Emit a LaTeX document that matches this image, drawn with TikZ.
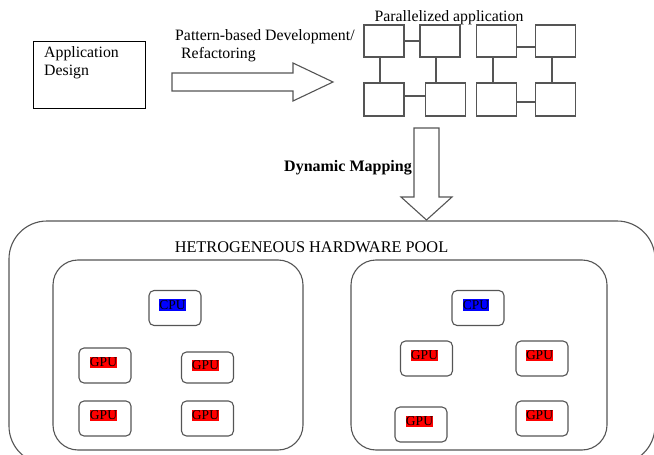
\documentclass[tikz,border=0pt]{standalone}
\usepackage{fontspec}
\setmainfont{Liberation Serif}
\usetikzlibrary{calc}
\definecolor{lgray}{HTML}{555555}
\begin{document}
\begin{tikzpicture}[x=1pt,y=-1pt,
  txt/.style={inner sep=0pt, font=\fontsize{15.8}{18}\selectfont},
  pbox/.style={draw=lgray, line width=1.1pt, minimum width=40pt, minimum height=32pt, inner sep=0pt},
  link/.style={draw=lgray, line width=1.1pt},
  hw/.style={draw=lgray, line width=1.1pt, rounded corners=5pt, minimum width=52pt, minimum height=35pt, inner sep=0pt},
  chip/.style={inner xsep=0.2pt, inner ysep=1.2pt, font=\fontsize{13.5}{15}\selectfont, text=black},
  blockarrow/.style={draw=lgray, line width=1.1pt, fill=white}
]
\useasboundingbox (0,0) rectangle (654,455);

% Application design
\node[draw=black, line width=1pt, minimum width=112pt, minimum height=67pt, inner sep=0pt] (app) at (89,74.5) {};
\node[txt, align=left, anchor=north west] (appt) at (44,46) {Application\\Design};

% refactoring arrow
\draw[blockarrow] (172,73) -- (293,73) -- (293,63) -- (333,82) -- (293,101) -- (293,91) -- (172,91) -- cycle;
\node[txt, align=left, anchor=north west] (pat) at (175,29) {Pattern-based Development/\\\hspace{6pt}Refactoring};

% parallelized application
\node[txt] (par) at (449,17.5) {Parallelized application};
\node[pbox] (b1) at (384,41) {};
\node[pbox] (b2) at (440,41) {};
\node[pbox] (b3) at (496.5,41) {};
\node[pbox] (b4) at (555.5,41) {};
\node[pbox, minimum height=33pt] (b5) at (384,99.5) {};
\node[pbox, minimum height=33pt] (b6) at (445.5,99.5) {};
\node[pbox, minimum height=33pt] (b7) at (496.5,99.5) {};
\node[pbox, minimum height=33pt] (b8) at (555.5,99.5) {};
\draw[link] (b1.east) -- (b2.west);
\draw[link] ([yshift=-6pt]b3.east) -- ([yshift=-6pt]b4.west);
\draw[link] ([yshift=3.5pt]b5.east) -- ([yshift=3.5pt]b5.east -| b6.west);
\draw[link] ([yshift=-2.5pt]b7.east) -- ([yshift=-2.5pt]b7.east -| b8.west);
\draw[link] ([xshift=-4pt]b1.south) -- ([xshift=-4pt]b1.south |- b5.north);
\draw[link] ([xshift=-4pt]b2.south) -- ([xshift=-4pt]b2.south |- b6.north);
\draw[link] ([xshift=-3.5pt]b3.south) -- ([xshift=-3.5pt]b3.south |- b7.north);
\draw[link] ([xshift=-3.5pt]b4.south) -- ([xshift=-3.5pt]b4.south |- b8.north);

% dynamic mapping arrow
\draw[blockarrow] (414,128) -- (439,128) -- (439,197) -- (452,197) -- (426.5,220) -- (401,197) -- (414,197) -- cycle;
\node[txt, font=\fontsize{16}{18}\selectfont\bfseries] (dm) at (348,168) {Dynamic Mapping};

% hardware pool
\draw[draw=lgray, line width=1.1pt, rounded corners=38pt] (9,221) rectangle (655,464);
\node[txt, font=\fontsize{16.3}{18}\selectfont] (pool) at (311.5,247) {HETROGENEOUS HARDWARE POOL};
\draw[draw=lgray, line width=1.1pt, rounded corners=25pt] (53,260) rectangle (303,450);
\draw[draw=lgray, line width=1.1pt, rounded corners=25pt] (351,260) rectangle (607,450);

% left node
\node[hw] (lc) at (175,308) {};
\node[chip, fill=blue] (lct) at ([shift={(-2.5,-3)}]lc.center) {CPU};
\node[hw] (lg1) at (105,365.5) {};
\node[chip, fill=red] (lg1t) at ([shift={(-1.5,-3)}]lg1.center) {GPU};
\node[hw, minimum height=31pt] (lg2) at (207.5,367.5) {};
\node[chip, fill=red] (lg2t) at ([shift={(-2,-2)}]lg2.center) {GPU};
\node[hw] (lg3) at (105,418.5) {};
\node[chip, fill=red] (lg3t) at ([shift={(-1.5,-3)}]lg3.center) {GPU};
\node[hw] (lg4) at (207.5,418.5) {};
\node[chip, fill=red] (lg4t) at ([shift={(-2,-3)}]lg4.center) {GPU};

% right node
\node[hw] (rc) at (478,308) {};
\node[chip, fill=blue] (rct) at ([shift={(-2,-3)}]rc.center) {CPU};
\node[hw] (rg1) at (426.5,358.5) {};
\node[chip, fill=red] (rg1t) at ([shift={(-2,-3)}]rg1.center) {GPU};
\node[hw] (rg2) at (542,358.5) {};
\node[chip, fill=red] (rg2t) at ([shift={(-2.5,-3)}]rg2.center) {GPU};
\node[hw] (rg3) at (421,424.5) {};
\node[chip, fill=red] (rg3t) at ([shift={(-1.5,-3)}]rg3.center) {GPU};
\node[hw] (rg4) at (542,418.5) {};
\node[chip, fill=red] (rg4t) at ([shift={(-2.5,-3)}]rg4.center) {GPU};
\end{tikzpicture}
\end{document}
